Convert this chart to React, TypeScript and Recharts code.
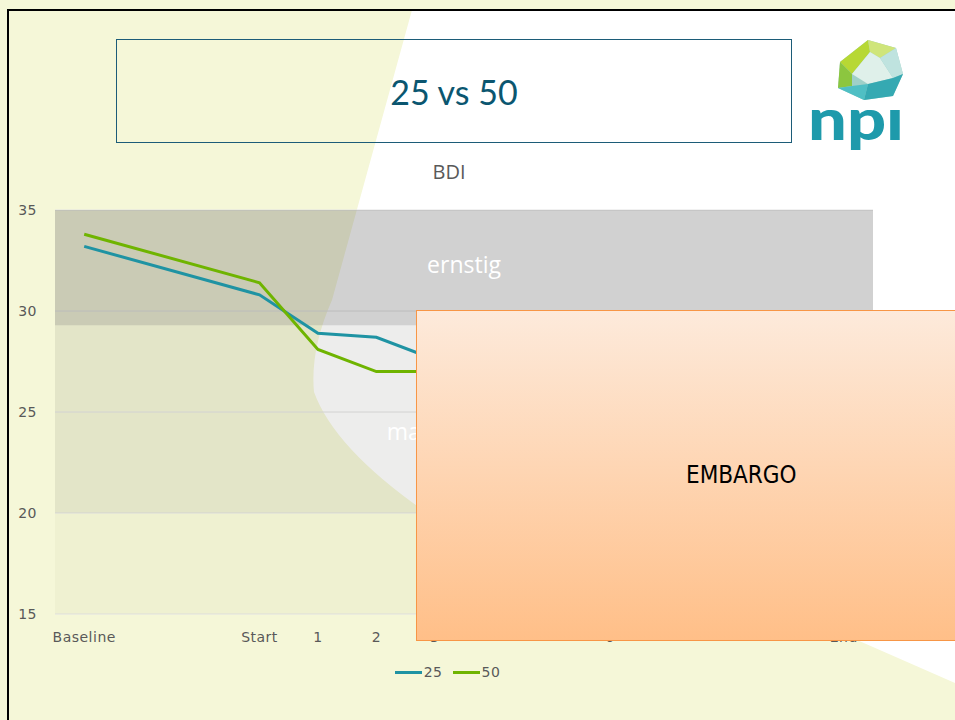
import React from "react";
import {
  LineChart,
  Line,
  XAxis,
  YAxis,
  CartesianGrid,
  ReferenceArea,
  Legend,
} from "recharts";

// timepoints on the x axis (slot position) and their labels
const timePos = [0, 3, 4, 5, 6, 9, 13];
const timeLabels = ["Baseline", "Start", "1", "2", "3", "6", "End"];

// BDI means per group
const bdi25 = [33.2, 30.8, 28.9, 28.7, 27.6, 26.0, 25.0];
const bdi50 = [33.8, 31.4, 28.1, 27.0, 27.0, 25.0, 23.5];

const yTicks = [15, 20, 25, 30, 35];

// severity bands
const severeBand = [29.3, 35];
const moderateBand = [20, 29.3];
const mildBand = [15, 20];

const data = timePos.map((t, i) => ({ t, g25: bdi25[i], g50: bdi50[i] }));

const TEAL = "#1f93a3";
const GREEN = "#6fb400";
const tickFont = { fontFamily: "DejaVu Sans", fontSize: 14, fill: "#595959", letterSpacing: 0.5 };

const LegendRow = ({ payload }) => (
  <div style={{ display: "flex", justifyContent: "center", alignItems: "center", height: 20, paddingLeft: 32 }}>
    {(payload || []).map((p) => (
      <span key={p.value} style={{ display: "inline-flex", alignItems: "center", marginRight: 10 }}>
        <span style={{ display: "inline-block", width: 27, height: 3, background: p.color, marginRight: 2 }} />
        <span style={{ fontFamily: "DejaVu Sans", fontSize: 14, color: "#595959", letterSpacing: 0.5 }}>{p.value}</span>
      </span>
    ))}
  </div>
);

const Logo = () => (
  <svg width={120} height={130} style={{ position: "absolute", left: 800, top: 35 }} viewBox="800 35 120 130">
    <polygon points="868,40 896,48 903,74 893,96 864,100 838,88 840,62" fill="#9fd0c8" />
    <polygon points="868,40 840,62 852,74 870,52" fill="#b7d834" />
    <polygon points="868,40 896,48 880,58 870,52" fill="#cfe57a" />
    <polygon points="840,62 838,88 852,86 852,74" fill="#8cc63f" />
    <polygon points="870,52 880,58 893,78 868,84 852,74" fill="#dff0ea" />
    <polygon points="896,48 903,74 893,78 880,58" fill="#bfe3df" />
    <polygon points="838,88 852,86 868,84 864,100" fill="#4fbfc4" />
    <polygon points="868,84 893,78 903,74 893,96 864,100" fill="#35a9b2" />
    <text
      x={808}
      y={140}
      textLength={96}
      lengthAdjust="spacingAndGlyphs"
      style={{ fontFamily: "Lato", fontWeight: 900, fontSize: 58, fill: "#1e9aab" }}
    >
      npı
    </text>
  </svg>
);

export default function App() {
  return (
    <div style={{ position: "absolute", left: 0, top: 0, width: 955, height: 720, overflow: "hidden", background: "#f5f7d8" }}>
      <svg width={955} height={720} style={{ position: "absolute", left: 0, top: 0 }}>
        <path
          d="M412,10 L955,10 L955,683 L857,640 L430,515 Q335,450 314,392 Q310,350 332,300 Z"
          fill="#ffffff"
        />
      </svg>
      <div
        style={{
          position: "absolute",
          left: 7,
          top: 9,
          width: 960,
          height: 720,
          border: "2px solid #000",
          boxSizing: "border-box",
        }}
      />

      <div style={{ position: "absolute", left: 0, top: 0 }}>
        <LineChart width={955} height={720} data={data} margin={{ top: 210, right: 82, left: 0, bottom: 46 }}>
          <ReferenceArea
            y1={severeBand[0]}
            y2={severeBand[1]}
            fill="rgb(90,90,90)"
            fillOpacity={0.28}
            stroke="none"
            label={{ value: "ernstig", position: "center", fill: "#ffffff", fontSize: 23, fontFamily: "Open Sans", dy: -3 }}
          />
          <ReferenceArea
            y1={moderateBand[0]}
            y2={moderateBand[1]}
            fill="rgb(60,60,40)"
            fillOpacity={0.09}
            stroke="none"
            label={{ value: "matig", position: "center", fill: "#ffffff", fontSize: 23, fontFamily: "Open Sans", dx: -47, dy: 13 }}
          />
          <ReferenceArea
            y1={mildBand[0]}
            y2={mildBand[1]}
            fill="rgb(100,100,60)"
            fillOpacity={0.04}
            stroke="none"
          />
          <CartesianGrid vertical={false} stroke="#e2e2e2" />
          <XAxis
            dataKey="t"
            type="number"
            domain={[-0.5, 13.5]}
            ticks={timePos}
            tickFormatter={(v) => timeLabels[timePos.indexOf(v)]}
            axisLine={false}
            tickLine={false}
            tickSize={0}
            tickMargin={18}
            height={40}
            tick={tickFont}
            interval={0}
          />
          <YAxis
            domain={[15, 35]}
            ticks={yTicks}
            axisLine={false}
            tickLine={false}
            tickSize={0}
            tickMargin={18}
            width={55}
            tick={tickFont}
          />
          <Legend
            verticalAlign="bottom"
            content={<LegendRow />}
            wrapperStyle={{ bottom: 38, height: 20 }}
          />
          <Line type="linear" dataKey="g25" name="25" stroke={TEAL} strokeWidth={3} dot={false} isAnimationActive={false} />
          <Line type="linear" dataKey="g50" name="50" stroke={GREEN} strokeWidth={3} dot={false} isAnimationActive={false} />
        </LineChart>
      </div>

      <div
        style={{
          position: "absolute",
          left: 116,
          top: 39,
          width: 676,
          height: 104,
          border: "1px solid #1c5c78",
          boxSizing: "border-box",
          display: "flex",
          alignItems: "center",
          justifyContent: "center",
          fontFamily: "Lato",
          fontSize: 34,
          color: "#0b5670",
        }}
      >
        25 vs 50
      </div>
      <div
        style={{
          position: "absolute",
          left: 349,
          width: 200,
          top: 158,
          textAlign: "center",
          fontFamily: "Open Sans",
          fontSize: 20,
          color: "#595959",
        }}
      >
        BDI
      </div>
      <Logo />

      <div
        style={{
          position: "absolute",
          left: 416,
          top: 310,
          width: 560,
          height: 331,
          border: "1px solid #f79646",
          boxSizing: "border-box",
          background: "linear-gradient(to bottom, #fdeadb, #ffbf88)",
        }}
      >
        <div
          style={{
            position: "absolute",
            left: 269,
            top: 150,
            lineHeight: "28px",
            fontFamily: "DejaVu Sans Condensed, DejaVu Sans",
            fontStretch: "condensed",
            fontSize: 24,
            color: "#000",
          }}
        >
          EMBARGO
        </div>
      </div>
    </div>
  );
}
